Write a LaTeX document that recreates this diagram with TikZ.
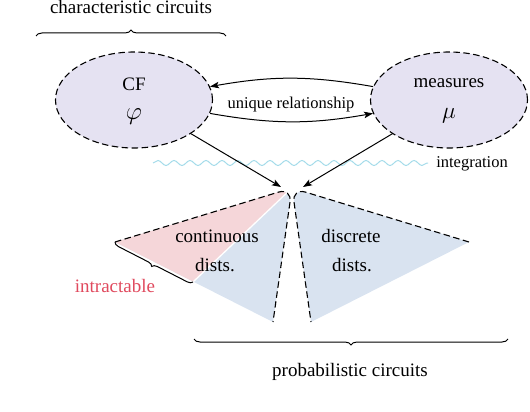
\documentclass[tikz,border=0pt]{standalone}
\usepackage{graphicx}
\usepackage{fontspec}
\setmainfont{Liberation Serif}
\usetikzlibrary{shapes.geometric,arrows.meta,decorations.pathmorphing,decorations.pathreplacing}
\definecolor{lav}{HTML}{E5E2F2}
\definecolor{pinkf}{HTML}{F5D6D9}
\definecolor{bluef}{HTML}{D9E3F0}
\definecolor{redt}{HTML}{E04A5E}
\definecolor{wavec}{HTML}{A6DCEA}
\begin{document}
\begin{tikzpicture}[x=1pt,y=-1pt,
  every node/.style={inner sep=0pt, font=\fontsize{19}{23}\selectfont},
  smalltext/.style={font=\fontsize{16.5}{20}\selectfont},
  dashbd/.style={line width=1.1pt, dash pattern=on 6.5pt off 3.5pt},
  blob/.style={ellipse, draw, dashbd, fill=lav, minimum width=157pt, minimum height=96pt},
  arr/.style={line width=1pt, -{Stealth[length=9pt,width=6.5pt,inset=2pt]}},
  bracedec/.style={decorate, decoration={brace, amplitude=#1}, line width=1pt},
  bracedec/.default=6pt,
  shaperound/.style={rounded corners=14pt},
]
\useasboundingbox (0,0) rectangle (530,412);

% ellipses
\node[blob] (CF) at (134,100) {};
\node[blob] (meas) at (449,100) {};
\node[anchor=base] (CFt) at (134,91) {CF};
\node[anchor=base] (CFphi) at (134,119) {\scalebox{1.45}{$\varphi$}};
\node[anchor=base] (meast) at (449,88) {measures};
\node[anchor=base] (measmu) at (449,118) {\scalebox{1.35}{$\mu$}};

% top brace
\coordinate (b1s) at (36,36);
\coordinate (b1e) at (226,36);
\draw[bracedec] (b1s) -- (b1e);
\node[anchor=base] (cclab) at (131,14) {characteristic circuits};

% relationship arrows
\draw[arr] (meas.170) to[bend right=10] (CF.10);
\draw[arr] (CF.-10) to[bend right=10] (meas.190);
\node[anchor=base, smalltext] (uniq) at (291,108) {unique relationship};

% wave
\coordinate (w1) at (153,163);
\coordinate (w2) at (428,163);
\draw[wavec, line width=1pt, decorate, decoration={snake, amplitude=2.5pt, segment length=16pt}] (w1) -- (w2);
\node[anchor=base, smalltext] (integ) at (472,167) {integration};

% shapes
\coordinate (apex) at (292,188);
\coordinate (Lleft) at (115,242);
\coordinate (Lbot) at (273,322);
\coordinate (Lsplit) at (193,282);
\coordinate (Rright) at (469,242);
\coordinate (Rbot) at (311,322);

\fill[bluef, shaperound] (Lleft) -- (apex) -- (Lbot);
\begin{scope}
  \clip[shaperound] (Lleft) -- (apex) -- (Lbot);
  \fill[pinkf] (Lleft) -- (apex) -- (Lsplit) -- cycle;
  \draw[white, line width=1.3pt] (Lsplit) -- (apex);
\end{scope}
\draw[dashbd, shaperound] (Lleft) -- (apex) -- (Lbot);

\fill[bluef, shaperound] (Rright) -- (apex) -- (Rbot);
\draw[dashbd, shaperound] (Rright) -- (apex) -- (Rbot);

% arrows to apex
\coordinate (tipL) at (281,187);
\coordinate (tipR) at (303,187);
\draw[arr] (CF) -- (tipL);
\draw[arr] (meas) -- (tipR);

% texts in shapes
\node[anchor=base] (cont1) at (217,242) {continuous};
\node[anchor=base] (cont2) at (215,271) {dists.};
\node[anchor=base] (disc1) at (351,242) {discrete};
\node[anchor=base] (disc2) at (352,271) {dists.};

% intractable brace
\draw[bracedec=5pt] (Lsplit) -- (Lleft);
\node[anchor=base, text=redt] (intr) at (115,292) {intractable};

% bottom brace
\coordinate (b2s) at (194,339);
\coordinate (b2e) at (508,339);
\draw[bracedec] (b2e) -- (b2s);
\node[anchor=base] (pclab) at (350,376) {probabilistic circuits};
\end{tikzpicture}
\end{document}
